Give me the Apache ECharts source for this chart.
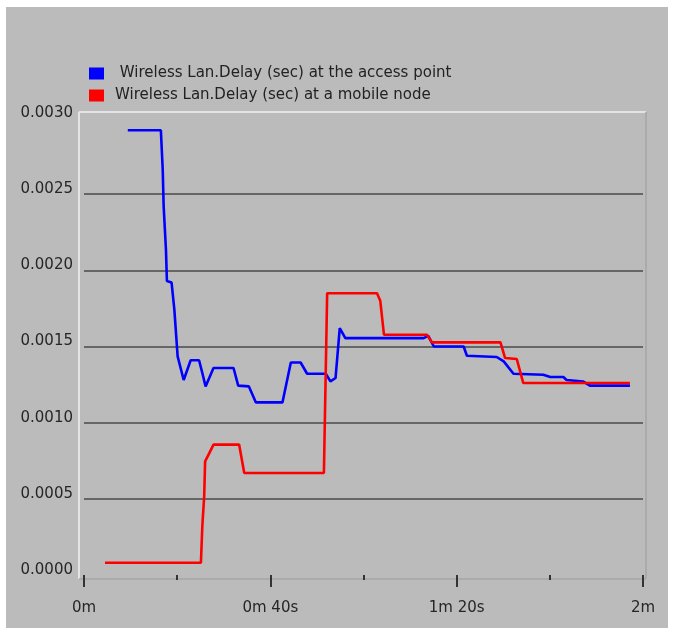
<!DOCTYPE html>
<html>
<head>
<meta charset="utf-8">
<script src="https://cdn.jsdelivr.net/npm/echarts@6/dist/echarts.min.js"></script>
<style>
  html, body { margin: 0; padding: 0; background: #fff; }
  #chart { width: 674px; height: 635px; }
</style>
</head>
<body>
<div id="chart"></div>
<script>
// seconds from start / delay in seconds
var seriesNames = [' Wireless Lan.Delay (sec) at the access point', 'Wireless Lan.Delay (sec) at a mobile node'];

var apTime = [9.4, 16.5, 16.9, 17.1, 17.6, 17.8, 18.8, 19.4, 20.1, 21.4, 22.9, 24.7, 25.4, 26.1, 27.8,
    32.1, 33.1, 35.4, 36.9, 42.6, 44.4, 46.5, 47.9, 51.9, 52.9, 54.0, 54.9, 56.1, 72.9, 73.9, 75.1,
    81.5, 82.2, 88.6, 90.1, 92.2, 98.6, 100.1, 102.9, 103.6, 107.2, 108.6, 117.2];
var apDelay = [0.00292, 0.00292, 0.00266, 0.00242, 0.00213, 0.00193, 0.00192, 0.00174, 0.001435, 0.00128,
    0.00141, 0.00141, 0.001326, 0.001238, 0.001359, 0.001359, 0.001243, 0.001238, 0.001133, 0.001133,
    0.001395, 0.001395, 0.001321, 0.001321, 0.001271, 0.001293, 0.001621, 0.001555, 0.001555, 0.00157,
    0.0015, 0.0015, 0.001439, 0.001431, 0.001402, 0.001321, 0.001315, 0.0013, 0.0013, 0.00128,
    0.00127, 0.001243, 0.001243];

var mobileTime = [4.5, 25.1, 25.4, 25.8, 26.0, 26.9, 27.8, 33.3, 34.4, 51.5, 52.2, 62.9, 63.6, 64.4,
    73.6, 74.7, 89.4, 90.4, 92.9, 94.3, 117.2];
var mobileDelay = [0.00008, 0.00008, 0.00032, 0.000517, 0.000746, 0.0008, 0.000856, 0.000856, 0.00067,
    0.00067, 0.00185, 0.00185, 0.0018, 0.001577, 0.001577, 0.001527, 0.001527, 0.001424, 0.001418,
    0.00126, 0.00126];

var xTickLabels = ['0m', '0m 40s', '1m 20s', '2m'];
var yTicks = ['0.0000', '0.0005', '0.0010', '0.0015', '0.0020', '0.0025', '0.0030'];

var fontFamily = '"DejaVu Sans", Verdana, sans-serif';

function pairs(xs, ys) {
    return xs.map(function (x, i) { return [x, ys[i]]; });
}

var chart = echarts.init(document.getElementById('chart'));
var option = {
    animation: false,
    backgroundColor: '#ffffff',
    textStyle: { fontFamily: fontFamily },
    graphic: [
        // grey panel
        { type: 'rect', z: -10, shape: { x: 6, y: 7, width: 662, height: 621 }, style: { fill: '#bbbbbb' } },
        // sunken plot frame
        { type: 'line', z: -5, shape: { x1: 79, y1: 112, x2: 646, y2: 112 }, style: { stroke: '#e4e4e4', lineWidth: 2 } },
        { type: 'line', z: -5, shape: { x1: 79, y1: 112, x2: 79, y2: 579 }, style: { stroke: '#e4e4e4', lineWidth: 2 } },
        { type: 'line', z: -5, shape: { x1: 79, y1: 579, x2: 646, y2: 579 }, style: { stroke: '#a6a6a6', lineWidth: 1.5 } },
        { type: 'line', z: -5, shape: { x1: 646, y1: 112, x2: 646, y2: 579 }, style: { stroke: '#a6a6a6', lineWidth: 1.5 } }
    ],
    legend: {
        orient: 'vertical',
        left: 89,
        top: 66,
        padding: 0,
        icon: 'rect',
        itemWidth: 15,
        itemHeight: 12,
        itemGap: 7,
        textStyle: {
            fontFamily: fontFamily,
            fontSize: 15,
            lineHeight: 14,
            color: '#222',
            padding: [0, 0, 0, 6]
        }
    },
    grid: {
        left: 84,
        right: 31,
        top: 118,
        bottom: 60
    },
    xAxis: {
        type: 'value',
        min: 0,
        max: 120,
        interval: 40,
        offset: 7,
        axisLine: { show: false },
        axisTick: { show: true, length: 12, lineStyle: { color: '#333', width: 2 } },
        minorTick: { show: true, splitNumber: 2, length: 5, lineStyle: { color: '#333', width: 2 } },
        splitLine: { show: false },
        axisLabel: {
            margin: 19,
            fontSize: 15,
            color: '#262626',
            fontFamily: fontFamily,
            formatter: function (v, i) { return xTickLabels[i]; }
        }
    },
    yAxis: {
        type: 'value',
        min: 0,
        max: 0.003,
        interval: 0.0005,
        axisLine: { show: false },
        axisTick: { show: false },
        splitLine: {
            show: true,
            showMinLine: false,
            showMaxLine: false,
            lineStyle: { color: '#4a4a4a', width: 1.6 }
        },
        axisLabel: {
            margin: 11,
            fontSize: 15,
            color: '#262626',
            fontFamily: fontFamily,
            verticalAlign: 'bottom',
            lineHeight: 10,
            formatter: function (v, i) { return yTicks[i]; }
        }
    },
    series: [
        {
            name: seriesNames[0],
            type: 'line',
            data: pairs(apTime, apDelay),
            showSymbol: false,
            symbol: 'none',
            lineStyle: { color: '#0000ff', width: 2.6 },
            itemStyle: { color: '#0000ff' }
        },
        {
            name: seriesNames[1],
            type: 'line',
            data: pairs(mobileTime, mobileDelay),
            showSymbol: false,
            symbol: 'none',
            lineStyle: { color: '#ff0000', width: 2.6 },
            itemStyle: { color: '#ff0000' }
        }
    ]
};
chart.setOption(option);
</script>
</body>
</html>
